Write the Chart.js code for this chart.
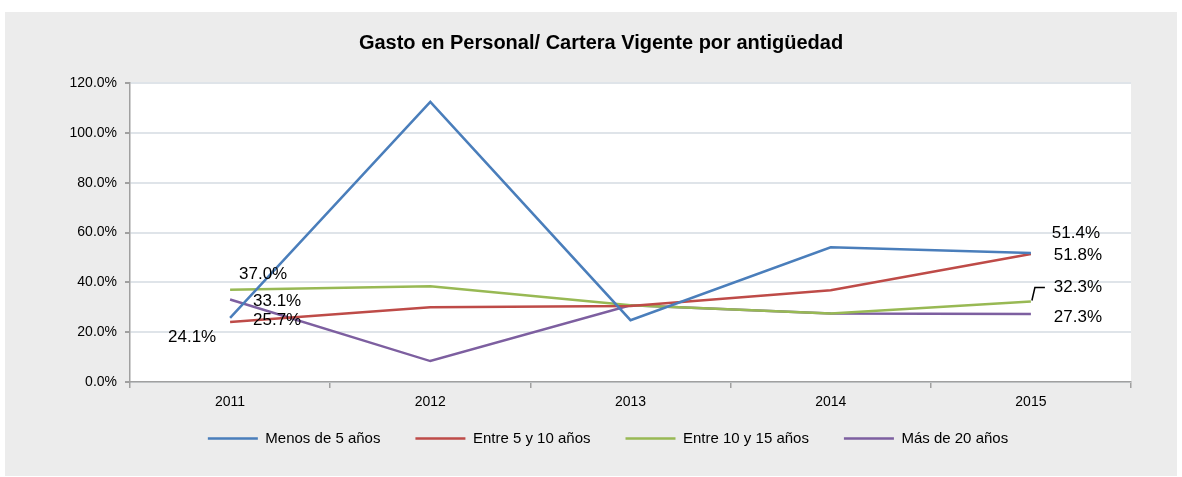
<!DOCTYPE html>
<html>
<head>
<meta charset="utf-8">
<script src="https://cdn.jsdelivr.net/npm/chart.js@4.4.0/dist/chart.umd.min.js"></script>
<style>
  html, body { margin: 0; padding: 0; background: #fff; }
  #wrap { position: absolute; left: 5px; top: 12px; width: 1172px; height: 464px; background: #ececec; }
</style>
</head>
<body>
<div id="wrap"><canvas id="chart"></canvas></div>
<script>
// data
const years = ['2011', '2012', '2013', '2014', '2015'];
const seriesNames = ['Menos de 5 años', 'Entre 5 y 10 años', 'Entre 10 y 15 años', 'Más de 20 años'];
const menos5 = [25.7, 112.4, 24.8, 54.1, 51.8];
const entre5y10 = [24.1, 30.0, 30.5, 36.8, 51.4];
const entre10y15 = [37.0, 38.4, 30.8, 27.5, 32.3];
const mas20 = [33.1, 8.4, 30.8, 27.5, 27.3];
const colors = ['#4a7ebb', '#be4b48', '#98b954', '#7d5fa0'];

// which end points carry a label, and where it sits relative to the point (px)
const labelSpots = [
  { ds: 0, i: 0, dx: 47, dy: 2 },
  { ds: 1, i: 0, dx: -38, dy: 15 },
  { ds: 2, i: 0, dx: 33, dy: -15 },
  { ds: 3, i: 0, dx: 47, dy: 2 },
  { ds: 0, i: 4, dx: 47, dy: 2 },
  { ds: 1, i: 4, dx: 45, dy: -21 },
  { ds: 2, i: 4, dx: 47, dy: -14, leader: true },
  { ds: 3, i: 4, dx: 47, dy: 3 }
];

const allSeries = [menos5, entre5y10, entre10y15, mas20];
const FONT = '"Liberation Sans", Arial, sans-serif';

const plotBg = {
  id: 'plotBg',
  beforeDraw(chart) {
    const { ctx, chartArea: a } = chart;
    ctx.save();
    ctx.fillStyle = '#ffffff';
    ctx.fillRect(a.left, a.top, a.right - a.left, a.bottom - a.top);
    ctx.restore();
  },
  afterLayout(chart) {
    // move title and legend to where they sit in the picture
    const t = chart.titleBlock;
    if (t) { t.left += 33; t.right += 33; }
    const lg = chart.legend;
    lg.left += 40;
    lg.right += 40;
    const dy = 384 - lg.top;
    lg.top += dy;
    lg.bottom += dy;
  }
};

const pointLabels = {
  id: 'pointLabels',
  afterDatasetsDraw(chart) {
    const ctx = chart.ctx;
    ctx.save();
    ctx.font = '17px ' + FONT;
    ctx.fillStyle = '#000';
    ctx.textAlign = 'center';
    ctx.textBaseline = 'middle';
    labelSpots.forEach(s => {
      const pt = chart.getDatasetMeta(s.ds).data[s.i];
      const v = allSeries[s.ds][s.i];
      const tx = pt.x + s.dx, ty = pt.y + s.dy;
      if (s.leader) {
        ctx.strokeStyle = '#000';
        ctx.lineWidth = 1.5;
        ctx.beginPath();
        ctx.moveTo(pt.x + 1, pt.y - 1);
        ctx.lineTo(pt.x + 4, ty);
        ctx.lineTo(pt.x + 14, ty);
        ctx.stroke();
      }
      ctx.fillText(v.toFixed(1) + '%', tx, ty);
    });
    ctx.restore();
  }
};

new Chart(document.getElementById('chart'), {
  type: 'line',
  data: {
    labels: years,
    datasets: allSeries.map((d, k) => ({
      label: seriesNames[k],
      data: d,
      borderColor: colors[k],
      backgroundColor: colors[k],
      borderWidth: 2.5,
      pointRadius: 0,
      pointStyle: 'line',
      tension: 0
    }))
  },
  options: {
    responsive: true,
    maintainAspectRatio: false,
    animation: false,
    layout: { padding: { left: 0, right: 46, top: 0, bottom: 0 } },
    plugins: {
      title: {
        display: true,
        text: 'Gasto en Personal/ Cartera Vigente por antigüedad',
        color: '#000',
        font: { family: FONT, size: 20, weight: 'bold' },
        padding: { top: 19, bottom: 28 }
      },
      legend: {
        position: 'bottom',
        labels: {
          usePointStyle: true,
          pointStyleWidth: 50,
          padding: 35,
          color: '#000',
          font: { family: FONT, size: 15 }
        }
      },
      tooltip: { enabled: false }
    },
    scales: {
      x: {
        offset: true,
        grid: { offset: true, drawOnChartArea: false, tickLength: 6, color: '#a0a0a0', lineWidth: 1.5 },
        border: { color: '#a0a0a0', width: 1.5 },
        ticks: { color: '#000', padding: 6, font: { family: FONT, size: 14 } },
        afterFit(scale) { scale.height = 34; }
      },
      y: {
        min: 0,
        max: 120,
        ticks: {
          stepSize: 20,
          padding: 8,
          color: '#000',
          font: { family: FONT, size: 14 },
          callback: v => v.toFixed(1) + '%'
        },
        grid: { color: '#dfe4e9', lineWidth: 2, tickLength: 5, tickColor: '#a0a0a0' },
        border: { color: '#a0a0a0', width: 1.5 },
        afterFit(scale) { scale.width = 125; }
      }
    }
  },
  plugins: [plotBg, pointLabels]
});
</script>
</body>
</html>
